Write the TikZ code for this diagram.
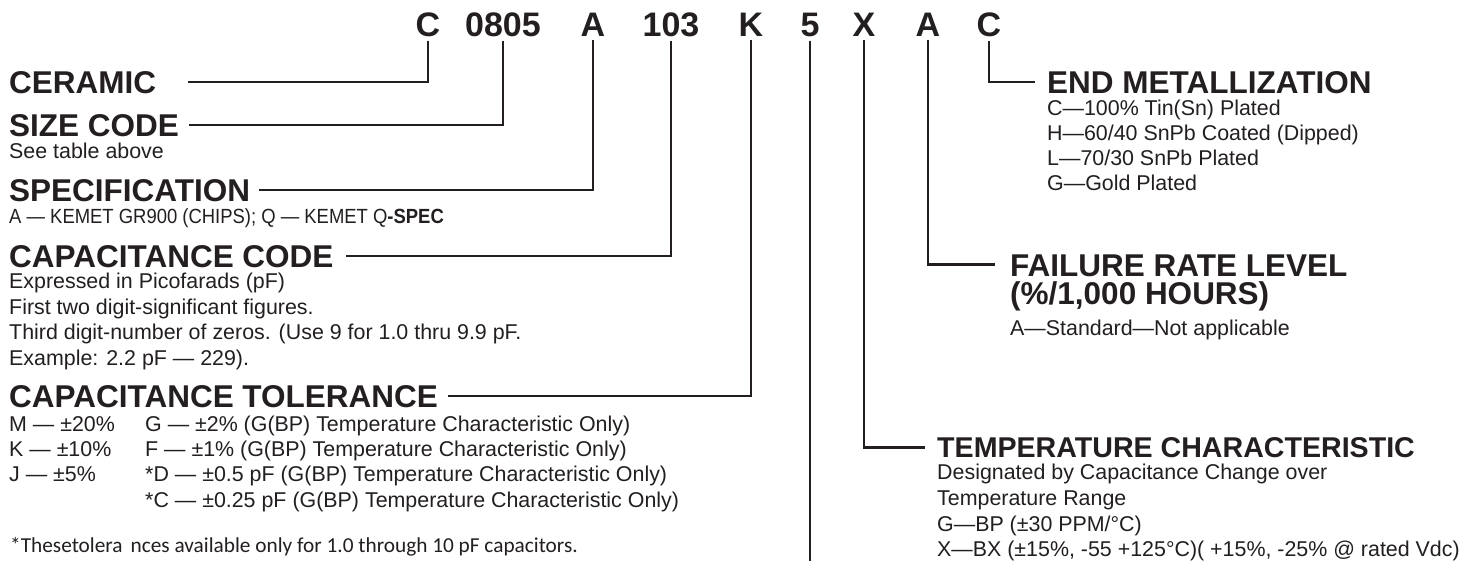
\documentclass[tikz,border=0pt]{standalone}
\usepackage{fontspec}
\setmainfont{Liberation Sans}
\newfontfamily\calfont{Carlito}
\newfontfamily\narrowfont[FakeStretch=0.9]{Liberation Sans}
\definecolor{ink}{RGB}{35,31,32}
\begin{document}
\begin{tikzpicture}[x=1pt,y=-1pt,
  code/.style={anchor=base, inner sep=0pt, font=\fontsize{34}{36}\selectfont\bfseries, text=ink},
  head/.style={anchor=base west, inner sep=0pt, font=\fontsize{31.5}{36}\selectfont\bfseries, text=ink},
  desc/.style={anchor=base west, inner sep=0pt, font=\fontsize{21.4}{25}\selectfont, text=ink},
  lead/.style={draw=ink, line width=2.2pt}]
\fill[white] (0,0) rectangle (1459,560);
\useasboundingbox (0,0) rectangle (1459,560);

% code letters
\node[code] (kC)    at (428,36) {C};
\node[code] (k0805) at (503,36) {0805};
\node[code] (kA)    at (593,36) {A};
\node[code] (k103)  at (671,36) {103};
\node[code] (kK)    at (751,36) {K};
\node[code] (k5)    at (810,36) {5};
\node[code] (kX)    at (864,36) {X};
\node[code] (kA2)   at (928,36) {A};
\node[code] (kC2)   at (989,36) {C};

% left headings
\node[head] (ceramic) at (9,93) {CERAMIC};
\node[head] (size) at (9,136) {SIZE CODE};
\node[desc] (sizetxt) at (9,158) {See table above};
\node[head] (spec) at (9,201) {SPECIFICATION};
\node[anchor=base west, inner sep=0pt, font=\narrowfont\fontsize{20.5}{25}\selectfont, text=ink] (spectxt) at (9,223) {A — KEMET GR900 (CHIPS); Q — KEMET Q\textbf{-SPEC}};
\node[head] (capcode) at (9,267) {CAPACITANCE CODE};
\node[desc] (cc1) at (9,288) {Expressed in Picofarads (pF)};
\node[desc] (cc2) at (9,314) {First two digit-significant figures.};
\node[desc] (cc3) at (9,339) {Third digit-number of zeros. (Use 9 for 1.0 thru 9.9 pF.};
\node[desc] (cc4) at (9,365) {Example: 2.2 pF — 229).};
\node[head] (captol) at (9,407) {CAPACITANCE TOLERANCE};
\node[desc] (t1a) at (9,431.7) {M — ±20\%};
\node[desc] (t1b) at (145,431.7) {G — ±2\% (G(BP) Temperature Characteristic Only)};
\node[desc] (t2a) at (9,456.7) {K — ±10\%};
\node[desc] (t2b) at (145,456.7) {F — ±1\% (G(BP) Temperature Characteristic Only)};
\node[desc] (t3a) at (9,481.7) {J — ±5\%};
\node[desc] (t3b) at (145,481.7) {*D — ±0.5 pF (G(BP) Temperature Characteristic Only)};
\node[desc] (t4b) at (145,507.3) {*C — ±0.25 pF (G(BP) Temperature Characteristic Only)};
\node[anchor=base west, inner sep=0pt, font=\calfont\fontsize{21.3}{25}\selectfont, text=ink] (foot) at (10,552.7) {*Thesetolera\hspace{8pt}nces available only for 1.0 through 10 pF capacitors.};

% right headings
\node[head] (endmet) at (1047,93) {END METALLIZATION};
\node[desc] (em1) at (1047,115) {C—100\% Tin(Sn) Plated};
\node[desc] (em2) at (1047,140) {H—60/40 SnPb Coated (Dipped)};
\node[desc] (em3) at (1047,165.6) {L—70/30 SnPb Plated};
\node[desc] (em4) at (1047,190.6) {G—Gold Plated};
\node[head] (fail) at (1010,276) {\vtop{\baselineskip=28pt\lineskiplimit=-\maxdimen\lineskip=0pt
  \hbox{FAILURE RATE LEVEL}\hbox{(\%/1,000 HOURS)}}};
\coordinate (failjoin) at (1010,264.5);
\node[desc] (failtxt) at (1010,335) {A—Standard—Not applicable};
\node[head, font=\fontsize{28.6}{34}\selectfont\bfseries] (temp) at (937,457.3) {TEMPERATURE CHARACTERISTIC};
\node[desc] (tc1) at (937,479.3) {Designated by Capacitance Change over};
\node[desc] (tc2) at (937,505) {Temperature Range};
\node[desc] (tc3) at (937,531) {G—BP (±30 PPM/°C)};
\node[desc] (tc4) at (937,556) {X—BX (±15\%, -55 +125°C)( +15\%, -25\% @ rated Vdc)};

% connectors
\coordinate (end5) at (810,562);
\draw[lead] ([yshift=-4pt]kC.south) |- ([xshift=32pt]ceramic.east);
\draw[lead] ([yshift=-4pt]k0805.south) |- ([xshift=10pt]size.east);
\draw[lead] ([yshift=-4pt]kA.south) |- ([xshift=9pt]spec.east);
\draw[lead] ([yshift=-4pt]k103.south) |- ([xshift=12pt]capcode.east);
\draw[lead] ([yshift=-4pt]kK.south) |- ([xshift=9.5pt]captol.east);
\draw[lead] ([yshift=-4pt]k5.south) -- (k5.south |- end5);
\draw[lead] ([yshift=-4pt]kX.south) |- ([xshift=-12pt]temp.west);
\draw[lead] ([yshift=-4pt]kA2.south) |- ([xshift=-15pt]failjoin);
\draw[lead] ([yshift=-4pt]kC2.south) |- ([xshift=-12pt]endmet.west);
\end{tikzpicture}
\end{document}
